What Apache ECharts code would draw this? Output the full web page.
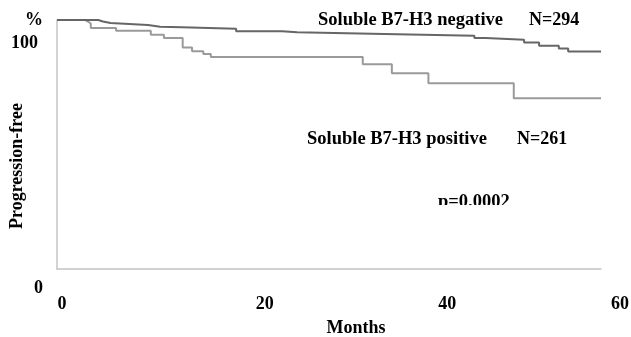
<!DOCTYPE html>
<html>
<head>
<meta charset="utf-8">
<script src="https://cdn.jsdelivr.net/npm/echarts@6/dist/echarts.min.js"></script>
<style>
html,body{margin:0;padding:0;background:#fff;}
#chart{width:631px;height:337px;}
</style>
</head>
<body>
<div id="chart"></div>
<script>
// Kaplan-Meier step data (months, % progression-free)
var negMonths = [0, 4.4, 4.9, 5.7, 9.7, 11.0, 13.3, 19.1, 24.0, 25.6, 34.9, 44.5, 45.7, 49.8, 51.4, 53.5, 54.5, 58];
var negSurv   = [100, 99.4, 98.8, 98.0, 97.3, 97.1, 96.5, 95.5, 95.1, 94.4, 93.7, 92.8, 92.1, 91.0, 89.7, 88.6, 87.3, 87.3];
var posMonths = [0, 3.0, 3.3, 3.6, 6.3, 10.0, 11.4, 13.4, 14.4, 15.6, 16.4, 32.6, 35.7, 39.6, 48.7, 58];
var posSurv   = [100, 99.4, 98.6, 96.8, 95.7, 94.1, 92.8, 89.0, 87.4, 86.3, 85.1, 82.2, 78.6, 74.6, 68.6, 68.6];
var xTicks = [0, 20, 40, 60];
var yTicks = [0, 100];
var negLabel = 'Soluble B7-H3 negative', negN = 'N=294';
var posLabel = 'Soluble B7-H3 positive', posN = 'N=261';
var pText = 'p=0.0002';
var xTitle = 'Months', yTitle = 'Progression-free';

function pairs(xs, ys){ return xs.map(function(x,i){ return [x, ys[i]]; }); }

var FONT = '"Liberation Serif","Times New Roman",serif';
var chart = echarts.init(document.getElementById('chart'), null, {renderer:'canvas'});
var xPad = {0:10, 20:40, 40:30, 60:0};

var option = {
  animation: false,
  backgroundColor: '#fff',
  grid: [
    {left: 57, top: 20, width: 544, height: 249, containLabel:false, outerBoundsMode:'none'},
    {left: 57, top: 20, width: 563, height: 249, containLabel:false, outerBoundsMode:'none'}
  ],
  xAxis: [
    {gridIndex:0, type:'value', min:0, max:58,
     axisLine:{show:true, lineStyle:{color:'#c4c4c4', width:1.5}},
     axisTick:{show:false}, axisLabel:{show:false}, splitLine:{show:false}},
    {gridIndex:1, type:'value', min:xTicks[0], max:xTicks[xTicks.length-1], interval:20,
     axisLine:{show:false}, axisTick:{show:false}, splitLine:{show:false},
     axisLabel:{margin:26, color:'#000', fontFamily:FONT, fontWeight:'bold', fontSize:18,
       formatter:function(v){ return '{t'+v+'|'+v+'}'; },
       rich:(function(){ var r={}; xTicks.forEach(function(t){ r['t'+t]={padding:[0,0,0,xPad[t]], fontFamily:FONT, fontWeight:'bold', fontSize:18, color:'#000'}; }); return r; })()
     },
     name:xTitle, nameLocation:'middle', nameGap:50, nameMoveOverlap:false,
     nameTextStyle:{color:'#000', fontFamily:FONT, fontWeight:'bold', fontSize:18, padding:[0,0,0,35]}}
  ],
  yAxis: [
    {gridIndex:0, type:'value', min:yTicks[0], max:yTicks[1], interval:100,
     axisLine:{show:true, lineStyle:{color:'#c4c4c4', width:1.5}},
     axisTick:{show:false}, splitLine:{show:false},
     axisLabel:{margin:14, color:'#000', fontFamily:FONT, fontWeight:'bold', fontSize:18,
       formatter:function(v){ return v===100 ? '{sp|}\n{pct|%}\n{hund|100}' : '{sp2|}\n{z|0}'; },
       rich:{
         sp:{lineHeight:23, fontSize:18},
         pct:{lineHeight:23, fontFamily:FONT, fontWeight:'bold', fontSize:18, color:'#000'},
         hund:{lineHeight:23, fontFamily:FONT, fontWeight:'bold', fontSize:18, color:'#000', padding:[0,5,0,0]},
         sp2:{lineHeight:39, fontSize:18},
         z:{lineHeight:20, fontFamily:FONT, fontWeight:'bold', fontSize:18, color:'#000'}
       }},
     name:yTitle, nameLocation:'middle', nameGap:31, nameRotate:90, nameMoveOverlap:false,
     nameTextStyle:{color:'#000', fontFamily:FONT, fontWeight:'bold', fontSize:18, padding:[0,43,0,0]}},
    {gridIndex:1, type:'value', min:0, max:100, show:false}
  ],
  series: [
    {type:'line', xAxisIndex:0, yAxisIndex:0, step:'end', symbol:'none', data:pairs(posMonths,posSurv),
     lineStyle:{color:'#9a9a9a', width:2}},
    {type:'line', xAxisIndex:0, yAxisIndex:0, step:'end', symbol:'none', data:pairs(negMonths,negSurv),
     lineStyle:{color:'#666666', width:2}}
  ],
  graphic: [
    {type:'text', x:318, y:20, style:{text:negLabel, font:'bold 18.5px '+FONT, fill:'#000', verticalAlign:'middle'}},
    {type:'text', x:529, y:20, style:{text:negN, font:'bold 18px '+FONT, fill:'#000', verticalAlign:'middle'}},
    {type:'text', x:307, y:139, style:{text:posLabel, font:'bold 18.5px '+FONT, fill:'#000', verticalAlign:'middle'}},
    {type:'text', x:517, y:139, style:{text:posN, font:'bold 18px '+FONT, fill:'#000', verticalAlign:'middle'}},
    {type:'text', x:438, y:202, z:10, style:{text:pText, font:'bold 18.5px '+FONT, fill:'#000', verticalAlign:'middle'}},
    {type:'rect', z:11, shape:{x:430, y:205, width:100, height:14}, style:{fill:'#fff'}}
  ]
};
chart.setOption(option);
</script>
</body>
</html>
